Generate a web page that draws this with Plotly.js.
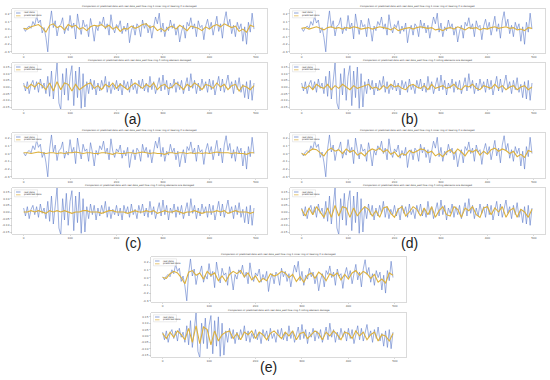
<!DOCTYPE html>
<html><head><meta charset="utf-8">
<script src="https://cdn.plot.ly/plotly-3.0.1.min.js"></script>
<style>html,body{margin:0;padding:0;background:#fff}#chart{width:550px;height:380px}</style>
</head><body><div id="chart"></div>
<script>
// ---------- data ----------
const xTicks=[0,100,200,300,400,500];
const topTickVals=[0.2,0.1,0,-0.1,-0.2,-0.3];
const topTickText=['0.2','0.1','0.0','-0.1','-0.2','-0.3'];
const botTickVals=[0.15,0.1,0.05,0,-0.05,-0.1,-0.15];
const botTickText=['0.15','0.10','0.05','0.00','-0.05','-0.10','-0.15'];
const realStep=4, predStep=8;

const realTop=[.01,-.03,.02,.04,.01,.10,.05,.17,.08,.12,-.05,.02,-.11,-.30,.06,.24,.02,.11,-.09,.04,.06,.15,-.06,.03,-.02,
.18,.01,.08,-.13,.20,.05,-.07,.12,.03,.06,-.10,.14,.02,-.16,.04,-.02,.10,.05,.16,.00,.07,-.08,.19,.03,-.05,
.06,.02,.11,-.06,.04,-.03,.08,-.18,-.02,.05,-.08,.07,.03,-.10,.12,.01,.08,-.05,.05,-.12,.03,.16,.07,.21,-.04,
.08,-.10,.03,-.02,.12,.01,.07,-.08,.03,-.17,-.03,.05,-.12,.09,.04,.15,.00,.07,-.10,.11,.02,.05,-.14,.04,.13,
.00,.09,-.08,.05,.17,-.03,.07,-.12,.11,.23,.04,.13,-.06,.05,-.10,.09,.00,.07,-.16,.03,-.20,.09,-.04,.21,.00];

const realBottom=[.03,-.03,.04,-.05,.02,.05,-.02,.04,-.04,.06,-.01,.03,-.05,.08,-.07,.12,-.09,.06,.18,-.12,-.17,.10,-.06,.14,-.10,
.08,.16,-.14,.12,-.08,.15,-.16,.10,-.15,.04,-.05,.06,-.02,.05,-.06,.03,-.03,.05,-.01,.08,-.04,.04,-.05,.02,-.02,
.05,-.03,.03,-.06,.05,-.01,.04,-.04,.06,-.02,.02,-.05,.05,-.01,.06,-.03,.03,-.04,.08,-.02,.04,-.05,.02,.07,-.03,
.09,-.02,.05,-.06,.03,-.01,.06,-.04,.04,-.02,.05,-.05,.02,.07,-.03,.10,-.01,.05,-.05,.03,-.03,.06,-.01,.04,-.04,
.06,-.02,.05,-.06,.02,.08,-.03,.06,-.04,.03,.09,-.01,.04,-.05,.05,-.02,.07,-.04,.02,-.08,.04,-.09,.05,-.10,.03];

const predTopA=[.01,.00,.03,.05,.06,.02,-.04,.05,.07,.02,.04,-.01,.06,.03,.05,.00,.02,-.02,.03,.05,.04,.06,.02,.05,.00,.03,-.03,.01,.00,.04,.01,.03,.06,.07,.02,.04,-.02,.01,-.03,.02,.04,.00,.05,.02,-.02,.04,.03,.01,-.02,.03,.00,.04,.06,.03,.07,.05,.02,.04,-.03,.00,-.04,.05,.03];
const predTopB=[.01,.02,.00,.02,.03,.01,-.01,.02,.03,.01,.02,.00,.02,.01,.03,.02,.00,.01,.02,.00,.01,.03,.02,.01,-.01,.02,-.02,.00,.01,.02,.00,.02,.03,.02,.01,.02,-.01,.00,-.02,.01,.02,.00,.03,.01,-.01,.02,.01,.02,-.01,.01,.00,.02,.03,.01,.02,.03,.01,.02,-.01,.00,-.02,.02,.01];
const predTopC=[.01,.01,.00,.01,.02,.01,.00,.01,.01,.00,.01,.00,.01,.01,.02,.01,.00,.01,.01,.00,.00,.01,.01,.00,-.01,.01,.00,.00,.01,.01,.00,.01,.02,.01,.00,.01,.00,.00,-.01,.01,.01,.00,.01,.01,.00,.01,.00,.01,.00,.01,.00,.01,.02,.01,.01,.01,.00,.01,.00,.00,-.01,.01,.01];
const predTopD=[.00,-.02,.03,.06,.05,.01,-.03,.04,.07,.03,.05,.00,.06,.02,.04,-.02,.01,-.03,.03,.06,.04,.07,.02,.05,-.01,.02,-.04,.00,-.02,.04,.01,.03,.06,.05,.01,.03,-.03,.00,-.04,.02,.05,.00,.06,.02,-.03,.04,.02,.05,-.02,.03,-.01,.05,.07,.03,.06,.04,.00,.03,-.04,-.01,-.05,.04,.02];
const predTopE=[.00,-.01,.05,.08,.06,.00,-.08,.07,.09,.03,.06,-.02,.08,.03,.06,-.04,.02,-.05,.04,.08,.05,.09,.01,.06,-.03,.02,-.06,-.01,-.04,.05,.02,.04,.08,.06,.00,.04,-.05,.01,-.06,.03,.06,-.01,.07,.03,-.04,.05,.02,.06,-.03,.04,-.02,.06,.09,.03,.08,.05,-.01,.04,-.06,-.02,-.07,.06,.03];

const predBotA=[.01,-.01,.02,.00,.03,.01,-.02,.03,-.03,.04,-.02,.03,.02,-.03,.02,-.02,.00,.02,.03,-.01,.01,-.02,.02,.00,.03,-.01,.02,.00,-.02,.01,.03,.01,-.01,.02,.00,.03,-.02,.01,.02,-.01,.00,.03,.01,-.02,.02,.00,.03,.01,-.02,.02,.01,-.01,.03,.00,.02,-.02,.01,.02,-.03,.01,.00,-.02,.01];
const predBotB=[.00,-.01,.01,-.02,.02,.00,-.01,.02,-.02,.01,-.01,.02,.00,-.02,.01,-.01,.00,.01,.02,-.01,.00,-.02,.01,-.01,.02,.00,.01,-.01,-.02,.01,.02,.00,-.01,.01,-.02,.02,-.01,.00,.01,-.01,.00,.02,-.01,-.02,.01,.00,.02,-.01,-.02,.01,.00,-.01,.02,-.01,.01,-.02,.00,.01,-.02,.00,.01,-.02,.00];
const predBotC=[.00,.00,.01,.00,.01,.00,-.01,.01,.00,.01,.00,.01,.00,-.01,.00,.00,.01,.01,.00,.00,.00,-.01,.00,.01,.01,.00,.00,.00,-.01,.00,.01,.00,.00,.01,.00,.01,-.01,.00,.01,.00,.00,.01,.00,-.01,.00,.00,.01,.00,-.01,.00,.00,.00,.01,.00,.01,-.01,.00,.01,.00,.00,.00,-.01,.00];
const predBotD=[.02,-.03,.03,-.02,.04,.00,-.04,.03,-.04,.05,-.03,.04,.03,-.04,.03,-.03,.01,.04,.02,-.03,.01,-.04,.03,.04,-.01,-.04,.02,.04,-.03,.00,.04,.02,-.03,.03,-.02,.04,-.04,.01,.04,-.02,-.03,.04,.02,-.04,.03,.01,.04,-.02,-.04,.03,.04,-.02,.03,.00,.04,-.04,.01,.03,-.04,.02,.00,-.04,.02];
const predBotE=[.02,-.02,.03,-.01,.04,.01,-.03,.06,-.05,.08,-.06,.07,.05,-.07,.04,-.04,.01,.03,.04,-.02,.02,-.03,.03,.01,.04,-.02,.03,.01,-.03,.02,.04,.01,-.02,.03,.00,.04,-.03,.02,.03,-.02,.01,.04,.02,-.03,.03,.00,.04,.01,-.03,.03,.02,-.02,.04,.00,.03,-.03,.01,.03,-.04,.01,.00,-.04,.02];

const predTop=[predTopA,predTopB,predTopC,predTopD,predTopE];
const predBottom=[predBotA,predBotB,predBotC,predBotD,predBotE];
const panelLabels=['(a)','(b)','(c)','(d)','(e)'];
const legendNames=['real data','predicted data'];
const topTitles=[
 'Comparison of predicted data with real data_well flow ring 1 inner ring of bearing 2 is damaged',
 'Comparison of predicted data with real data_well flow ring 1 inner ring of bearing 2 is damaged',
 'Comparison of predicted data with real data_well flow ring 1 inner ring of bearing 2 is damaged',
 'Comparison of predicted data with real data_well flow ring 1 inner ring of bearing 2 is damaged',
 'Comparison of predicted data with real data_well flow ring 1 inner ring of bearing 2 is damaged'];
const bottomTitles=[
 'Comparison of predicted data with real data_well flow ring 4 rolling element damaged',
 'Comparison of predicted data with real data_well flow ring 4 rolling elements are damaged',
 'Comparison of predicted data with real data_well flow ring 4 rolling elements are damaged',
 'Comparison of predicted data with real data_well flow ring 4 rolling elements are damaged',
 'Comparison of predicted data with real data_well flow ring 4 rolling element damage'];

// ---------- layout (pixels) ----------
const W=550,H=380;
// x0,x1, topY0,topY1, botY0,botY1, labelX,labelY
const boxes=[
 [12,267,9,53,63,109,132,119],
 [290,545,9,53,63,109,409,119],
 [12,267,133,178,188,234,133,243],
 [290,545,133,178,188,234,409,243],
 [151,406,257,302,313,357,268,367]];
const BLUE='#5d7bc9', ORANGE='#dcb03c';
const px=v=>v/W, py=v=>1-v/H;

const traces=[], layout={width:W,height:H,margin:{l:0,r:0,t:0,b:0},showlegend:false,
  paper_bgcolor:'#fff',plot_bgcolor:'#fff',font:{family:'DejaVu Sans, sans-serif',color:'#444'},
  annotations:[],shapes:[]};

boxes.forEach((b,p)=>{
  [0,1].forEach(s=>{
    const idx=p*2+s+1;
    const xa=idx===1?'x':'x'+idx, ya=idx===1?'y':'y'+idx;
    const real=s===0?realTop:realBottom;
    const pred=s===0?predTop[p]:predBottom[p];
    const y0=s===0?b[2]:b[4], y1=s===0?b[3]:b[5];
    traces.push({type:'scatter',mode:'lines',x:real.map((_,i)=>i*realStep),y:real,xaxis:xa,yaxis:ya,
      line:{color:BLUE,width:0.6},name:legendNames[0],hoverinfo:'skip'});
    traces.push({type:'scatter',mode:'lines',x:pred.map((_,i)=>i*predStep),y:pred,xaxis:xa,yaxis:ya,
      line:{color:ORANGE,width:1.1},name:legendNames[1],hoverinfo:'skip'});
    const common={showgrid:false,zeroline:false,showline:true,mirror:true,linecolor:'#b5b5b5',linewidth:0.5,
      ticks:'outside',ticklen:1.5,tickwidth:0.5,tickcolor:'#b5b5b5',tickfont:{size:2.8,color:'#555'},fixedrange:true};
    layout[idx===1?'xaxis':'xaxis'+idx]=Object.assign({},common,{domain:[px(b[0]),px(b[1])],anchor:ya,
      range:[-25,524],tickvals:xTicks,ticktext:xTicks.map(String)});
    layout[idx===1?'yaxis':'yaxis'+idx]=Object.assign({},common,{domain:[py(y1),py(y0)],anchor:xa,
      range:s===0?[-0.315,0.265]:[-0.165,0.18],tickvals:s===0?topTickVals:botTickVals,ticktext:s===0?topTickText:botTickText});
    layout.annotations.push({xref:'paper',yref:'paper',x:px((b[0]+b[1])/2),y:py(y0-2.6),xanchor:'center',yanchor:'middle',
      text:s===0?topTitles[p]:bottomTitles[p],showarrow:false,font:{size:2.4,color:'#333'}});
    const lx=b[0]+2.5, ly=y0+1.8;
    layout.shapes.push({type:'rect',xref:'paper',yref:'paper',x0:px(lx),x1:px(lx+23),y0:py(ly),y1:py(ly+7),
      line:{color:'#d0d0d0',width:0.4},fillcolor:'rgba(255,255,255,0.85)'});
    [[BLUE,2.2],[ORANGE,5]].forEach(([c,dy],k)=>{
      layout.shapes.push({type:'line',xref:'paper',yref:'paper',x0:px(lx+1.5),x1:px(lx+6),y0:py(ly+dy),y1:py(ly+dy),
        line:{color:c,width:0.7}});
      layout.annotations.push({xref:'paper',yref:'paper',x:px(lx+7),y:py(ly+dy),xanchor:'left',yanchor:'middle',
        text:legendNames[k],showarrow:false,font:{size:2.4,color:'#333'}});
    });
  });
  layout.annotations.push({xref:'paper',yref:'paper',x:px(b[6]),y:py(b[7]),xanchor:'center',yanchor:'middle',
    text:panelLabels[p],showarrow:false,font:{size:14,color:'#222',family:'Liberation Sans, Arial, sans-serif'}});
});

Plotly.newPlot('chart',traces,layout,{staticPlot:true,displayModeBar:false});
</script></body></html>
